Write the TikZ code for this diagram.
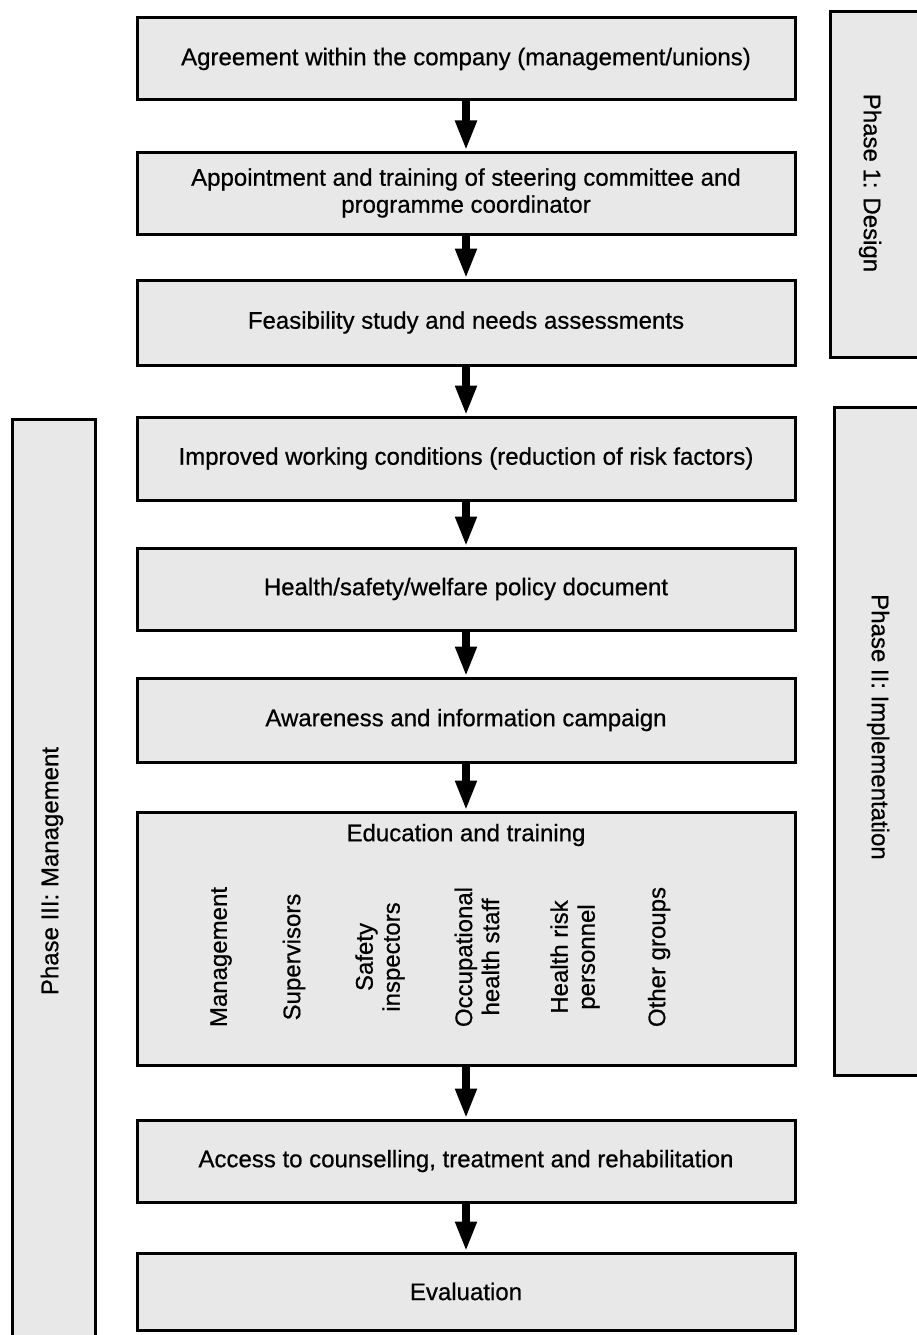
\documentclass[tikz,border=0pt]{standalone}
\usepackage{fontspec}
\setmainfont{Liberation Sans}[FakeBold=0.6]
\newfontfamily\heavyfont{Liberation Sans}[FakeBold=0.6]
\usetikzlibrary{arrows.meta}
\begin{document}
\begin{tikzpicture}[x=1pt,y=-1pt,
  every node/.style={font=\heavyfont\fontsize{24}{27}\selectfont, inner sep=0pt, text=black},
  stepbox/.style={draw=black, line width=3pt, fill=black!9, minimum width=658pt, align=center},
  phasebox/.style={draw=black, line width=3pt, fill=black!9},
  flow/.style={line width=8pt, -{Triangle[width=20pt,length=30pt]}},
  vlabel/.style={rotate=90, align=center},
  phasetext/.style={align=center}
  ]
\useasboundingbox (0,0) rectangle (917,1335);
\fill[white] (0,0) rectangle (917,1335);

% phase boxes
\node[phasebox, minimum width=95pt, minimum height=345pt] (p1) at (877.5,184.5) {};
\node[phasetext, rotate=-90] (p1t) at (870,183) {Phase 1: Design};
\node[phasebox, minimum width=91pt, minimum height=668pt] (p2) at (879.5,741) {};
\node[phasetext, rotate=-90] (p2t) at (878,727) {Phase II: Implementation};
\node[phasebox, minimum width=83pt, minimum height=926pt] (p3) at (53.5,882) {};
\node[phasetext, rotate=90] (p3t) at (52,871) {Phase III: Management};

% main steps
\node[stepbox, minimum height=82pt] (b1) at (466,59) {Agreement within the company (management/unions)};
\node[stepbox, minimum height=82pt] (b2) at (466,193) {Appointment and training of steering committee and\\programme coordinator};
\node[stepbox, minimum height=85pt] (b3) at (466,322.5) {Feasibility study and needs assessments};
\node[stepbox, minimum height=83pt] (b4) at (466,458.5) {Improved working conditions (reduction of risk factors)};
\node[stepbox, minimum height=82pt] (b5) at (466,589) {Health/safety/welfare policy document};
\node[stepbox, minimum height=84pt] (b6) at (466,720) {Awareness and information campaign};
\node[stepbox, minimum height=253pt] (b7) at (466,938.5) {};
\node (b7t) at (466,835) {Education and training};
\node[stepbox, minimum height=82pt] (b8) at (466,1161) {Access to counselling, treatment and rehabilitation};
\node[stepbox, minimum height=77pt] (b9) at (466,1291.5) {Evaluation};

% education groups
\node[vlabel] (g1) at (221,957) {Management};
\node[vlabel] (g2) at (294,957) {Supervisors};
\node[vlabel] (g3) at (380,957) {Safety\\inspectors};
\node[vlabel] (g4) at (477,957) {Occupational\\health staff};
\node[vlabel] (g5) at (575,957) {Health risk\\personnel};
\node[vlabel] (g6) at (659,957) {Other groups};

% arrows
\draw[flow] (b1.south) -- (b2.north);
\draw[flow] (b2.south) -- (b3.north);
\draw[flow] (b3.south) -- (b4.north);
\draw[flow] (b4.south) -- (b5.north);
\draw[flow] (b5.south) -- (b6.north);
\draw[flow] (b6.south) -- (b7.north);
\draw[flow] (b7.south) -- (b8.north);
\draw[flow] (b8.south) -- (b9.north);
\end{tikzpicture}
\end{document}
